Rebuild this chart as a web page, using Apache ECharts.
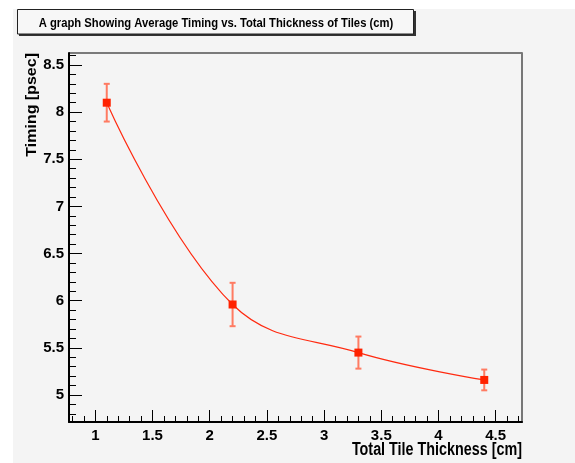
<!DOCTYPE html>
<html>
<head>
<meta charset="utf-8">
<title>Average Timing vs. Total Thickness of Tiles</title>
<script src="https://cdn.jsdelivr.net/npm/echarts@6/dist/echarts.min.js"></script>
<style>
  html, body { margin: 0; padding: 0; background: #ffffff; }
  #chart { width: 575px; height: 463px; }
</style>
</head>
<body>
<div id="chart"></div>
<script>
// Measured points: total tile thickness [cm] vs average timing [psec]
const thickness = [1.1, 2.2, 3.3, 4.4];
const timing = [8.1, 5.96, 5.45, 5.16];
const timingError = [0.2, 0.23, 0.17, 0.11];

// Axis ticks and labels
const xMajorTicks = [1, 1.5, 2, 2.5, 3, 3.5, 4, 4.5];
const yMajorTicks = [5, 5.5, 6, 6.5, 7, 7.5, 8, 8.5];
const xRange = [0.77, 4.73];
const yRange = [4.714, 8.627];

const titleText = 'A graph Showing Average Timing vs. Total Thickness of Tiles (cm)';
const xTitle = 'Total Tile Thickness [cm]';
const yTitle = 'Timing [psec]';

// Minor ticks every 0.1 between the major ones
function minorTicks(range, majors) {
  const out = [];
  for (let v = Math.ceil(range[0] * 10); v <= Math.floor(range[1] * 10); v++) {
    const val = v / 10;
    if (!majors.some(m => Math.abs(m - val) < 1e-6)) out.push(val);
  }
  return out;
}
const xMinorTicks = minorTicks(xRange, xMajorTicks);
const yMinorTicks = minorTicks(yRange, yMajorTicks);

const FONT = "'Liberation Sans', Arial, Helvetica, sans-serif";
const NARROW = 0.82; // horizontal squeeze for the condensed-looking titles
const BG = '#f4f4f4';
const RED = '#ff2200';
const ERR = '#ff7b62';

const points = thickness.map((x, i) => [x, timing[i], timingError[i]]);

const chart = echarts.init(document.getElementById('chart'), null, { renderer: 'canvas' });

const tickLabel = { fontFamily: FONT, fontWeight: 'bold', fontSize: 15, color: '#000' };

chart.setOption({
  backgroundColor: '#ffffff',
  animation: false,
  grid: {
    left: 69, top: 53, right: 53, bottom: 41,
    show: true, borderColor: '#000', borderWidth: 1, backgroundColor: BG
  },
  graphic: [
    { type: 'rect', z: -10, silent: true, shape: { x: 13, y: 9, width: 562, height: 454 }, style: { fill: BG } },
    // title box with shadow
    { type: 'rect', z: 10, shape: { x: 19, y: 11, width: 397, height: 25 }, style: { fill: '#333' } },
    { type: 'rect', z: 11, shape: { x: 17.5, y: 9.5, width: 396, height: 24.5 }, style: { fill: '#f7f7f7', stroke: '#222', lineWidth: 1 } },
    { type: 'text', z: 12, x: 216, y: 23, scaleX: 0.865, style: { text: titleText, font: 'bold 13px ' + FONT, fill: '#000', align: 'center', verticalAlign: 'middle' } },
    // axis titles
    { type: 'text', z: 12, x: 522, y: 459, scaleX: NARROW, style: { text: xTitle, font: 'bold 17.5px ' + FONT, fill: '#000', align: 'right', verticalAlign: 'bottom' } },
    { type: 'text', z: 12, x: 32, y: 53, rotation: Math.PI / 2, scaleY: 0.88, style: { text: yTitle, font: 'bold 16px ' + FONT, fill: '#000', align: 'right', verticalAlign: 'middle' } }
  ],
  xAxis: [
    {
      type: 'value', min: xRange[0], max: xRange[1], position: 'bottom',
      axisLine: { show: true, lineStyle: { color: '#000', width: 2 } },
      axisTick: { show: true, inside: true, length: 12, customValues: xMajorTicks, lineStyle: { color: '#000', width: 1 } },
      axisLabel: { show: true, customValues: xMajorTicks, margin: 6, ...tickLabel, formatter: v => String(v) },
      splitLine: { show: false }
    },
    {
      type: 'value', min: xRange[0], max: xRange[1], position: 'bottom',
      axisLine: { show: false },
      axisTick: { show: true, inside: true, length: 6, customValues: xMinorTicks, lineStyle: { color: '#000', width: 1 } },
      axisLabel: { show: false },
      splitLine: { show: false }
    }
  ],
  yAxis: [
    {
      type: 'value', min: yRange[0], max: yRange[1], position: 'left',
      axisLine: { show: true, lineStyle: { color: '#000', width: 2 } },
      axisTick: { show: true, inside: true, length: 13, customValues: yMajorTicks, lineStyle: { color: '#000', width: 1 } },
      axisLabel: { show: true, customValues: yMajorTicks, margin: 5, ...tickLabel, formatter: v => String(v) },
      splitLine: { show: false }
    },
    {
      type: 'value', min: yRange[0], max: yRange[1], position: 'left',
      axisLine: { show: false },
      axisTick: { show: true, inside: true, length: 7, customValues: yMinorTicks, lineStyle: { color: '#000', width: 1 } },
      axisLabel: { show: false },
      splitLine: { show: false }
    },
    {
      type: 'value', min: yRange[0], max: yRange[1], position: 'right',
      axisLine: { show: true, lineStyle: { color: '#777', width: 2 } },
      axisTick: { show: false }, axisLabel: { show: false }, splitLine: { show: false }
    }
  ],
  series: [
    {
      type: 'line',
      data: points.map(p => [p[0], p[1]]),
      smooth: 0.4,
      symbol: 'rect',
      symbolSize: 8,
      itemStyle: { color: RED },
      lineStyle: { color: '#ff2a10', width: 1.2 },
      z: 5
    },
    {
      type: 'custom',
      data: points,
      z: 4,
      renderItem: function (params, api) {
        const x = api.value(0), y = api.value(1), e = api.value(2);
        const top = api.coord([x, y + e]);
        const bot = api.coord([x, y - e]);
        const cap = 3;
        const style = { stroke: ERR, lineWidth: 2 };
        return {
          type: 'group',
          children: [
            { type: 'line', shape: { x1: top[0], y1: top[1], x2: bot[0], y2: bot[1] }, style },
            { type: 'line', shape: { x1: top[0] - cap, y1: top[1], x2: top[0] + cap, y2: top[1] }, style },
            { type: 'line', shape: { x1: bot[0] - cap, y1: bot[1], x2: bot[0] + cap, y2: bot[1] }, style }
          ]
        };
      }
    }
  ]
});
</script>
</body>
</html>
